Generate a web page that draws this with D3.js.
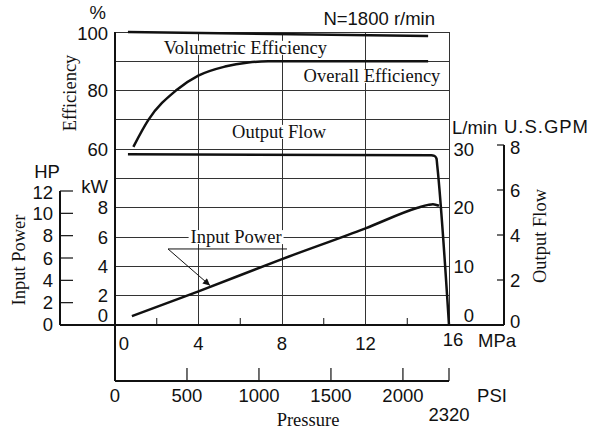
<!DOCTYPE html>
<html><head><meta charset="utf-8">
<script src="https://cdn.jsdelivr.net/npm/d3@7"></script>
<style>
html,body{margin:0;padding:0;background:#fff;}
svg{display:block;}
.sans{font-family:"Liberation Sans",Arial,sans-serif;font-size:18.5px;fill:#111;}
.serif{font-family:"Liberation Serif","Times New Roman",serif;font-size:18.5px;fill:#111;}
</style></head>
<body>
<svg id="c" width="600" height="433"></svg>
<script>
// ---- data ----
const mpaTicks = [0, 4, 8, 12, 16];
const mpaMinor = [2, 6, 10, 14];
const psiTicks = [0, 500, 1000, 1500, 2000];
const psiMax = 2320;
const effTicks = [60, 80, 100];
const kwTicks = [0, 2, 4, 6, 8];
const hpTicks = [0, 2, 4, 6, 8, 10, 12];
const flowTicks = [0, 10, 20, 30];
const gpmTicks = [0, 2, 4, 6, 8];

const volPressure = [0.62, 15.0];
const volEff = [100, 98.6];

const overallPressure = [0.88, 1.6, 2.95, 3.99, 5.27, 6.39, 7.34, 15.0];
const overallEff = [60.8, 70.0, 80.2, 85.1, 88.2, 89.6, 90, 90];

const flowPressure = [0.62, 15.15, 15.3, 15.4, 15.44, 16.0];
const flowLpm = [29.15, 28.95, 28.85, 28.4, 27.1, 0];

const powerPressure = [0.81, 4, 8, 12, 14.5, 15.0, 15.23, 15.52];
const powerKw = [0.61, 2.3, 4.5, 6.6, 8.0, 8.2, 8.25, 8.14];

// ---- scales ----
const x = d3.scaleLinear().domain([0, 16]).range([115, 449]);
const xPsi = d3.scaleLinear().domain([0, psiMax]).range([115, 449]);
const yEff = d3.scaleLinear().domain([0, 100]).range([325, 32]);
const yFlow = d3.scaleLinear().domain([0, 50]).range([325, 32]);
const yKw = d3.scaleLinear().domain([0, 20]).range([325, 32]);
const yHp = d3.scaleLinear().domain([0, 12]).range([325, 191]);
const yGpm = d3.scaleLinear().domain([0, 8]).range([325, 145]);
const psiY = 381;

const svg = d3.select("#c");
const ink = "#111";

// grid
const grid = svg.append("g").attr("stroke", "#333").attr("stroke-width", 1).attr("shape-rendering", "crispEdges");
d3.range(10, 101, 10).forEach(v => {
  grid.append("line").attr("x1", x(0)).attr("x2", x(16)).attr("y1", yEff(v)).attr("y2", yEff(v));
});
[4, 8, 12, 16].forEach(v => {
  grid.append("line").attr("x1", x(v)).attr("x2", x(v)).attr("y1", yEff(100)).attr("y2", yEff(0));
});
// left frame line from top to PSI axis
svg.append("line").attr("x1", x(0)).attr("x2", x(0)).attr("y1", yEff(100)).attr("y2", psiY)
  .attr("stroke", ink).attr("stroke-width", 2);

// main bottom axis (extends to HP axis and GPM axis)
svg.append("line").attr("x1", 60).attr("x2", 504).attr("y1", yEff(0)).attr("y2", yEff(0))
  .attr("stroke", ink).attr("stroke-width", 2.2);
mpaMinor.forEach(v => svg.append("line").attr("x1", x(v)).attr("x2", x(v)).attr("y1", yEff(0)).attr("y2", yEff(0) - 7)
  .attr("stroke", ink).attr("stroke-width", 1));
mpaTicks.forEach((v, i) => {
  const last = i === mpaTicks.length - 1;
  const dx = i === 0 ? 9 : (last ? 4 : 0);
  svg.append("text").attr("class", "sans").attr("x", x(v) + dx).attr("y", 343 + (last ? -4 : 0))
    .attr("text-anchor", "middle").attr("dominant-baseline", "central").text(v);
});
svg.append("text").attr("class", "sans").attr("x", 478).attr("y", 340).attr("dominant-baseline", "central").text("MPa");

// PSI axis
svg.append("line").attr("x1", xPsi(0)).attr("x2", xPsi(psiMax)).attr("y1", psiY).attr("y2", psiY)
  .attr("stroke", ink).attr("stroke-width", 2);
psiTicks.concat([psiMax]).forEach(v => {
  if (v === 0) return;
  svg.append("line").attr("x1", xPsi(v)).attr("x2", xPsi(v)).attr("y1", psiY).attr("y2", psiY - 13)
    .attr("stroke", ink).attr("stroke-width", 1.2);
});
psiTicks.forEach(v => svg.append("text").attr("class", "sans").attr("x", xPsi(v)).attr("y", 395)
  .attr("text-anchor", "middle").attr("dominant-baseline", "central").text(v));
svg.append("text").attr("class", "sans").attr("x", xPsi(psiMax)).attr("y", 414)
  .attr("text-anchor", "middle").attr("dominant-baseline", "central").text(psiMax);
svg.append("text").attr("class", "sans").attr("x", 492).attr("y", 395)
  .attr("text-anchor", "middle").attr("dominant-baseline", "central").text("PSI");
svg.append("text").attr("class", "serif").attr("x", 308).attr("y", 420)
  .attr("text-anchor", "middle").attr("dominant-baseline", "central").text("Pressure");

// Efficiency labels
effTicks.forEach(v => svg.append("text").attr("class", "sans").attr("x", 108).attr("y", yEff(v) + (v === 100 ? 1 : 0))
  .attr("text-anchor", "end").attr("dominant-baseline", "central").text(v));
svg.append("text").attr("class", "sans").attr("x", 106).attr("y", 12)
  .attr("text-anchor", "end").attr("dominant-baseline", "central").text("%");
svg.append("text").attr("class", "serif").attr("transform", "translate(70,93) rotate(-90)")
  .attr("text-anchor", "middle").attr("dominant-baseline", "central").text("Efficiency");
svg.append("text").attr("class", "sans").attr("x", 435).attr("y", 18)
  .attr("text-anchor", "end").attr("dominant-baseline", "central").text("N=1800 r/min");

// kW labels
kwTicks.forEach(v => svg.append("text").attr("class", "sans").attr("x", 108).attr("y", yKw(v) - (v === 0 ? 10 : 0))
  .attr("text-anchor", "end").attr("dominant-baseline", "central").text(v));
svg.append("text").attr("class", "sans").attr("x", 108).attr("y", 186)
  .attr("text-anchor", "end").attr("dominant-baseline", "central").text("kW");

// HP axis
svg.append("line").attr("x1", 60).attr("x2", 60).attr("y1", yHp(12)).attr("y2", yHp(0))
  .attr("stroke", ink).attr("stroke-width", 2);
hpTicks.forEach(v => {
  if (v > 0) svg.append("line").attr("x1", 60).attr("x2", 73).attr("y1", yHp(v)).attr("y2", yHp(v))
    .attr("stroke", ink).attr("stroke-width", 1.2);
  svg.append("text").attr("class", "sans").attr("x", 53).attr("y", yHp(v) + (v === 0 ? -1 : (v === 12 ? 1 : 0)))
    .attr("text-anchor", "end").attr("dominant-baseline", "central").text(v);
});
svg.append("text").attr("class", "sans").attr("x", 47).attr("y", 171)
  .attr("text-anchor", "middle").attr("dominant-baseline", "central").text("HP");
svg.append("text").attr("class", "serif").attr("transform", "translate(19,260) rotate(-90)")
  .attr("text-anchor", "middle").attr("dominant-baseline", "central").text("Input Power");

// L/min labels
flowTicks.forEach(v => svg.append("text").attr("class", "sans").attr("x", 474).attr("y", yFlow(v) - (v === 0 ? 10 : 0))
  .attr("text-anchor", "end").attr("dominant-baseline", "central").text(v));
svg.append("text").attr("class", "sans").attr("x", 452).attr("y", 127)
  .attr("dominant-baseline", "central").text("L/min");

// GPM axis
svg.append("line").attr("x1", 504).attr("x2", 504).attr("y1", yGpm(8)).attr("y2", yGpm(0))
  .attr("stroke", ink).attr("stroke-width", 2);
gpmTicks.forEach(v => {
  if (v > 0) svg.append("line").attr("x1", 497).attr("x2", 504).attr("y1", yGpm(v)).attr("y2", yGpm(v))
    .attr("stroke", ink).attr("stroke-width", 1.2);
  svg.append("text").attr("class", "sans").attr("x", 510).attr("y", yGpm(v) + (v === 0 ? -4 : (v === 8 ? 2 : 0)))
    .attr("dominant-baseline", "central").text(v);
});
svg.append("text").attr("class", "sans").attr("x", 504).attr("y", 126)
  .attr("dominant-baseline", "central").attr("textLength", 84).attr("lengthAdjust", "spacing").text("U.S.GPM");
svg.append("text").attr("class", "serif").attr("transform", "translate(540,236) rotate(-90)")
  .attr("text-anchor", "middle").attr("dominant-baseline", "central").text("Output Flow");

// ---- curves ----
function drawLine(px, py, ys, curve) {
  const pts = px.map((p, i) => [x(p), ys(py[i])]);
  svg.append("path").attr("d", d3.line().curve(curve)(pts))
    .attr("fill", "none").attr("stroke", ink).attr("stroke-width", 2.5).attr("stroke-linejoin", "round");
}
drawLine(volPressure, volEff, yEff, d3.curveLinear);
drawLine(overallPressure, overallEff, yEff, d3.curveMonotoneX);
drawLine(flowPressure, flowLpm, yFlow, d3.curveMonotoneX);
drawLine(powerPressure, powerKw, yKw, d3.curveMonotoneX);

// ---- labels with white background ----
function label(txt, cx, cy) {
  const t = svg.append("text").attr("class", "serif").attr("x", cx).attr("y", cy)
    .attr("text-anchor", "middle").attr("dominant-baseline", "central").text(txt);
  const b = t.node().getBBox();
  svg.insert("rect", () => t.node()).attr("x", b.x - 2).attr("y", b.y + 3).attr("width", b.width + 4)
    .attr("height", b.height - 6).attr("fill", "#fff");
}
label("Volumetric Efficiency", x(6.25), yEff(94.6));
label("Overall Efficiency", x(12.31), yEff(85.0));
label("Output Flow", x(7.86), yEff(65.9));
label("Input Power", x(5.80), yKw(6));

// leader + arrow for Input Power
svg.append("defs").append("marker").attr("id", "ah").attr("viewBox", "0 0 10 10")
  .attr("refX", 10).attr("refY", 5).attr("markerWidth", 9).attr("markerHeight", 7)
  .attr("markerUnits", "userSpaceOnUse").attr("orient", "auto")
  .append("path").attr("d", "M0,0 L10,5 L0,10 z").attr("fill", ink);
svg.append("line").attr("x1", x(2.54)).attr("x2", x(8.24)).attr("y1", yKw(5.19)).attr("y2", yKw(5.19))
  .attr("stroke", ink).attr("stroke-width", 1);
svg.append("line").attr("x1", x(2.54)).attr("y1", yKw(5.19)).attr("x2", x(4.55)).attr("y2", yKw(2.7))
  .attr("stroke", ink).attr("stroke-width", 1).attr("marker-end", "url(#ah)");
</script>
</body></html>
